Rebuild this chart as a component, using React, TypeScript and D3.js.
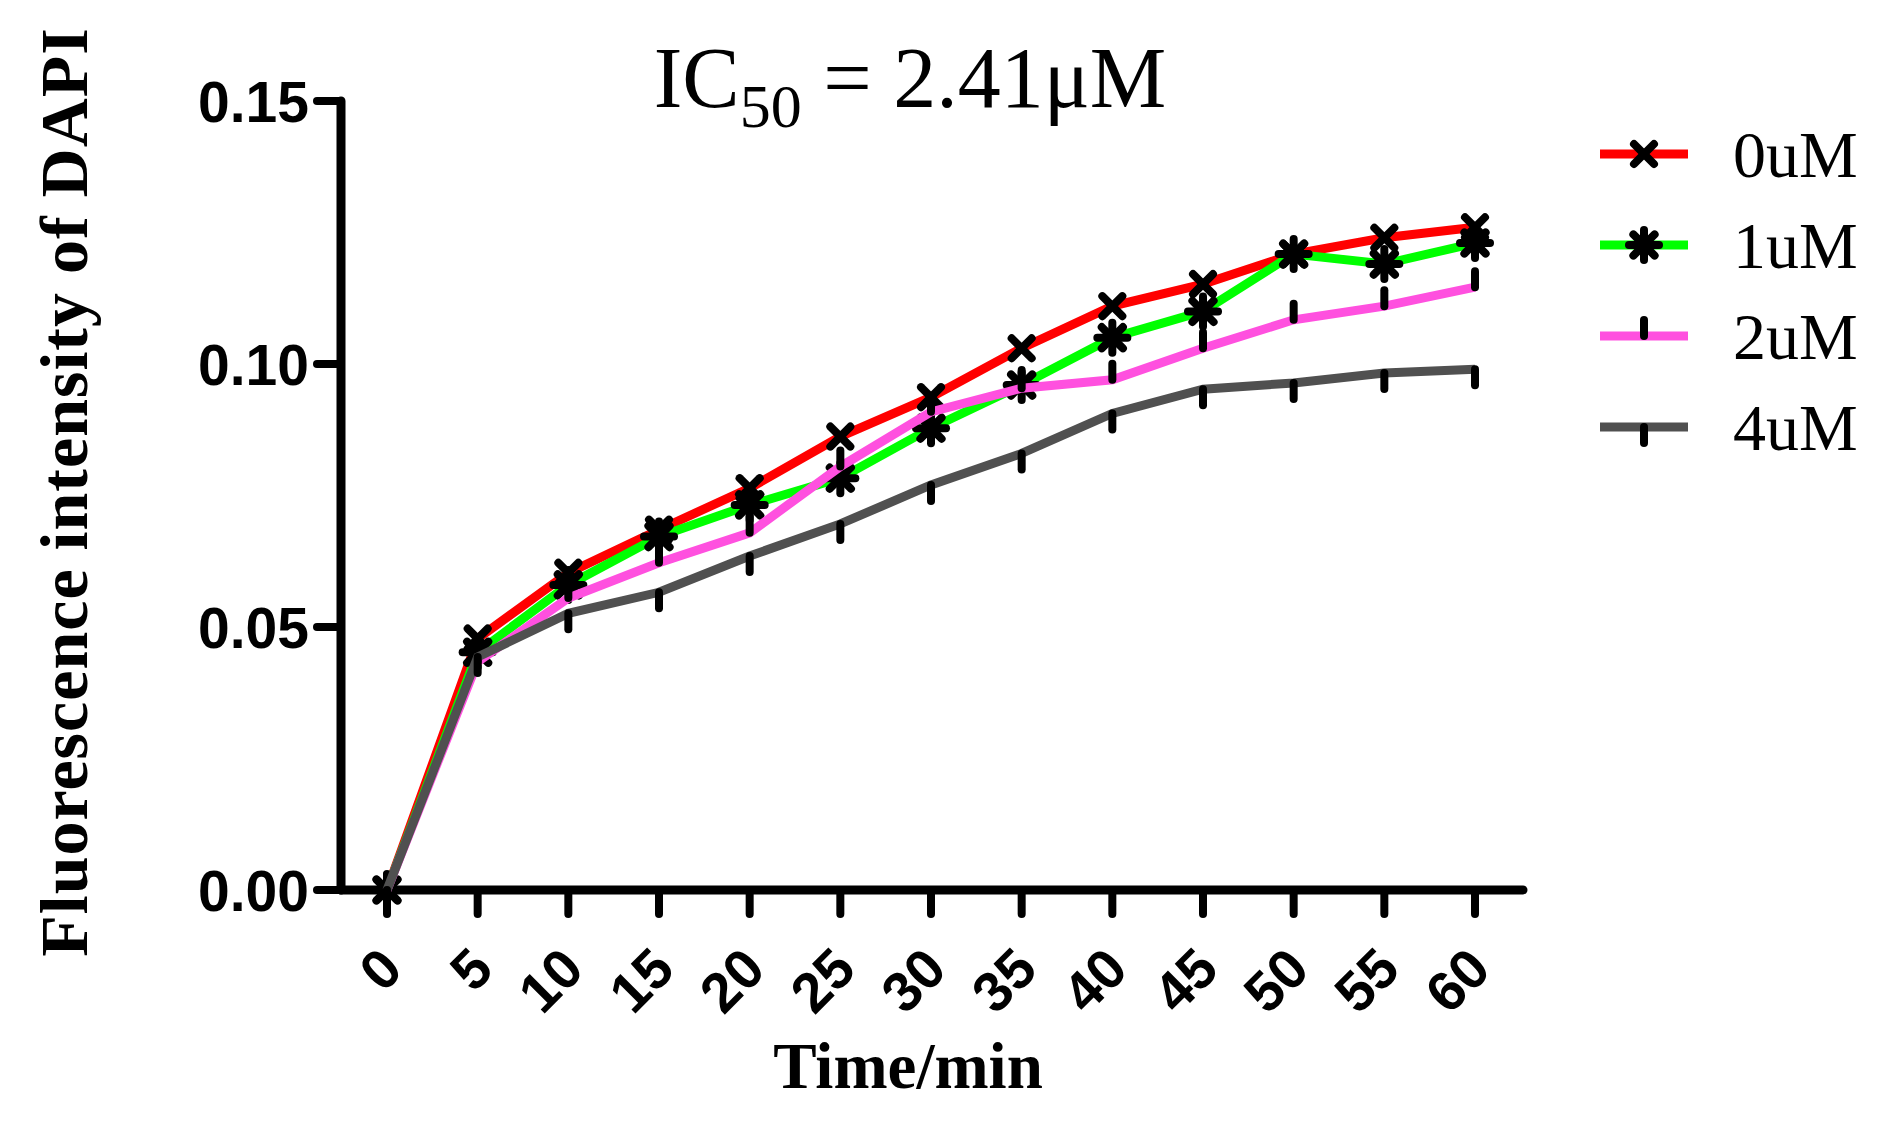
import * as d3 from "d3";

const times = [0, 5, 10, 15, 20, 25, 30, 35, 40, 45, 50, 55, 60];
const conc0 = [0, 0.0478, 0.0603, 0.0685, 0.0764, 0.0862, 0.0937, 0.103, 0.111, 0.1152, 0.1209, 0.124, 0.126];
const conc1 = [0, 0.0452, 0.058, 0.0672, 0.0732, 0.0783, 0.0878, 0.096, 0.105, 0.11, 0.1209, 0.119, 0.123];
const conc2 = [0, 0.0434, 0.0555, 0.0622, 0.0679, 0.0805, 0.0909, 0.0954, 0.097, 0.103, 0.1084, 0.111, 0.1146];
const conc4 = [0, 0.0443, 0.0526, 0.0566, 0.0635, 0.0696, 0.077, 0.083, 0.0906, 0.0952, 0.0964, 0.0983, 0.099];
const seriesNames = ["0uM", "1uM", "2uM", "4uM"];
const seriesColors = ["#ff0000", "#00ff00", "#ff50df", "#505050"];
const seriesMarkers = ["cross", "star", "barUp", "barDown"];
const yTicks = [0, 0.05, 0.1, 0.15];

const W = 1887;
const H = 1125;
const SERIF = "'Liberation Serif', 'Times New Roman', serif";
const SANS = "'Liberation Sans', Arial, sans-serif";

function Marker({ kind, x, y }: { kind: string; x: number; y: number }) {
  const common = { stroke: "#000", strokeWidth: 8, strokeLinecap: "round" as const };
  if (kind === "cross") {
    const r = 10;
    return (
      <g {...common}>
        <line x1={x - r} y1={y - r} x2={x + r} y2={y + r} />
        <line x1={x - r} y1={y + r} x2={x + r} y2={y - r} />
      </g>
    );
  }
  if (kind === "star") {
    const r = 15;
    const d = r * Math.SQRT1_2;
    return (
      <g {...common}>
        <line x1={x - r} y1={y} x2={x + r} y2={y} />
        <line x1={x} y1={y - r} x2={x} y2={y + r} />
        <line x1={x - d} y1={y - d} x2={x + d} y2={y + d} />
        <line x1={x - d} y1={y + d} x2={x + d} y2={y - d} />
      </g>
    );
  }
  if (kind === "barUp") {
    return <line {...common} x1={x} y1={y - 16} x2={x} y2={y} />;
  }
  return <line {...common} x1={x} y1={y} x2={x} y2={y + 16} />;
}

export default function App() {
  const x = d3.scaleLinear().domain([0, 60]).range([387, 1475]);
  const y = d3.scaleLinear().domain([0, 0.15]).range([890, 101]);
  const allSeries = [conc0, conc1, conc2, conc4];

  const line = d3
    .line<number>()
    .x((_, i) => x(times[i]))
    .y((d) => y(d));

  const axisX0 = 341;
  const tickLen = 24;

  return (
    <>
      <style>{"body{margin:0}"}</style>
      <svg width={W} height={H} style={{ display: "block", background: "#fff" }}>
        {/* title */}
        <text x={910} y={107} textAnchor="middle" fontFamily={SERIF} fontSize={86} fill="#000">
          IC
          <tspan fontSize={62} dy={20}>50</tspan>
          <tspan dy={-20}> = 2.41μM</tspan>
        </text>

        {/* axes */}
        <g stroke="#000" strokeLinecap="round">
          <line x1={axisX0} y1={y(0.15)} x2={axisX0} y2={y(0)} strokeWidth={9} />
          {yTicks.map((t) => (
            <line key={t} x1={axisX0 - tickLen} y1={y(t)} x2={axisX0} y2={y(t)} strokeWidth={8} />
          ))}
          <line x1={axisX0} y1={y(0)} x2={1523} y2={y(0)} strokeWidth={9} />
          {times.map((t) => (
            <line key={t} x1={x(t)} y1={y(0)} x2={x(t)} y2={y(0) + tickLen} strokeWidth={8} />
          ))}
        </g>
        {yTicks.map((t) => (
          <text
            key={t}
            x={309}
            y={y(t)}
            dy="0.36em"
            textAnchor="end"
            fontFamily={SANS}
            fontWeight="bold"
            fontSize={57}
            fill="#000"
          >
            {d3.format(".2f")(t)}
          </text>
        ))}
        {times.map((t) => (
          <text
            key={t}
            transform={`translate(${x(t) + 18},972) rotate(-45)`}
            textAnchor="end"
            fontFamily={SANS}
            fontWeight="bold"
            fontSize={56}
            fill="#000"
          >
            {t}
          </text>
        ))}

        {/* axis titles */}
        <text x={908} y={1088} textAnchor="middle" fontFamily={SERIF} fontWeight="bold" fontSize={65} fill="#000">
          Time/min
        </text>
        <text
          transform="translate(87,492) rotate(-90)"
          textAnchor="middle"
          fontFamily={SERIF}
          fontWeight="bold"
          fontSize={68}
          letterSpacing={1}
          fill="#000"
        >
          Fluorescence intensity of DAPI
        </text>

        {/* series */}
        {allSeries.map((s, si) => (
          <g key={seriesNames[si]}>
            <path d={line(s) || ""} fill="none" stroke={seriesColors[si]} strokeWidth={9} strokeLinejoin="miter" />
            {s.map((v, i) => (
              <Marker key={i} kind={seriesMarkers[si]} x={x(times[i])} y={y(v)} />
            ))}
          </g>
        ))}

        {/* legend */}
        {seriesNames.map((name, i) => {
          const ly = 154 + i * 91;
          return (
            <g key={name}>
              <line x1={1600} y1={ly} x2={1688} y2={ly} stroke={seriesColors[i]} strokeWidth={9} />
              <Marker kind={seriesMarkers[i]} x={1644} y={ly} />
              <text x={1733} y={ly + 23} fontFamily={SERIF} fontSize={66} fill="#000">
                {name}
              </text>
            </g>
          );
        })}
      </svg>
    </>
  );
}
